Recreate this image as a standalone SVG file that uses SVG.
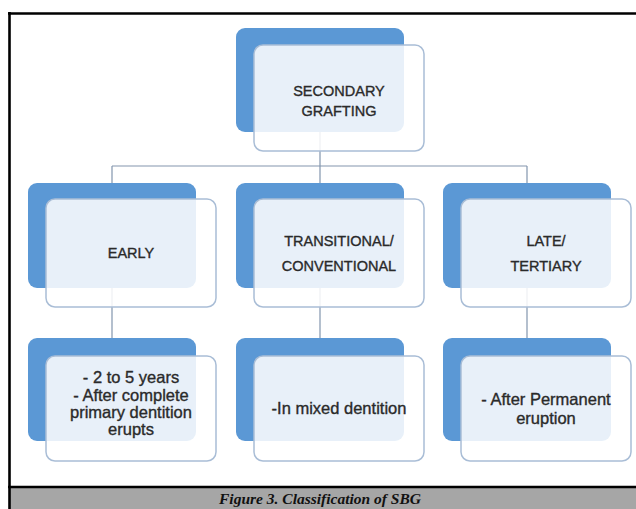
<svg xmlns="http://www.w3.org/2000/svg" width="636" height="509" viewBox="0 0 636 509">
<style>
.back{fill:#5B98D5;}
.front{fill:#FFFFFF;fill-opacity:0.86;stroke:#A9BDD6;stroke-width:1.5;}
.cap{font-family:"Liberation Sans",Arial,sans-serif;font-size:14.5px;fill:#2A2A2A;stroke:#2A2A2A;stroke-width:0.35;text-anchor:middle;}
.low{font-family:"Liberation Sans",Arial,sans-serif;font-size:16.5px;fill:#2A2A2A;stroke:#2A2A2A;stroke-width:0.35;text-anchor:middle;}
.conn{stroke:#8396AE;stroke-width:1.2;fill:none;}
.cat{font-family:"Liberation Serif","Times New Roman",serif;font-size:15.5px;font-weight:bold;font-style:italic;fill:#111;text-anchor:middle;}
</style>
<rect x="0" y="0" width="636" height="509" fill="#FFFFFF"/>
<g id="connectors">
<path class="conn" d="M320 132 V166 M112 166 H527 M112 166 V183 M320 166 V183 M527 166 V183"/>
<path class="conn" d="M112 288 V338 M320 288 V338 M527 288 V338"/>
</g>
<g id="n-secondary">
<rect class="back" x="236" y="28" width="168" height="104" rx="9"/>
<rect class="front" x="254" y="45" width="170" height="106" rx="9"/>
<text class="cap" x="339" y="96">SECONDARY</text>
<text class="cap" x="339" y="116">GRAFTING</text>
</g>
<g id="n-early">
<rect class="back" x="28" y="183" width="168" height="105" rx="9"/>
<rect class="front" x="46" y="199" width="170" height="108" rx="9"/>
<text class="cap" x="131" y="258">EARLY</text>
</g>
<g id="n-transitional">
<rect class="back" x="236" y="183" width="168" height="105" rx="9"/>
<rect class="front" x="254" y="199" width="170" height="108" rx="9"/>
<text class="cap" x="339" y="246">TRANSITIONAL/</text>
<text class="cap" x="339" y="271">CONVENTIONAL</text>
</g>
<g id="n-late">
<rect class="back" x="443" y="183" width="168" height="105" rx="9"/>
<rect class="front" x="461" y="199" width="170" height="108" rx="9"/>
<text class="cap" x="546" y="246">LATE/</text>
<text class="cap" x="546" y="271">TERTIARY</text>
</g>
<g id="n-early-desc">
<rect class="back" x="28" y="338" width="168" height="103" rx="9"/>
<rect class="front" x="46" y="356" width="170" height="105" rx="9"/>
<text class="low" x="131" y="383">- 2 to 5 years</text>
<text class="low" x="131" y="401">- After complete</text>
<text class="low" x="131" y="418">primary dentition</text>
<text class="low" x="131" y="435">erupts</text>
</g>
<g id="n-transitional-desc">
<rect class="back" x="236" y="338" width="168" height="103" rx="9"/>
<rect class="front" x="254" y="356" width="170" height="105" rx="9"/>
<text class="low" x="339" y="414">-In mixed dentition</text>
</g>
<g id="n-late-desc">
<rect class="back" x="443" y="338" width="168" height="103" rx="9"/>
<rect class="front" x="461" y="356" width="170" height="105" rx="9"/>
<text class="low" x="546" y="405">- After Permanent</text>
<text class="low" x="546" y="424">eruption</text>
</g>
<g id="frame">
<rect x="10" y="487" width="626" height="22" fill="#A6A6A6"/>
<path d="M8 13.5 H636 M9.5 12 V509 M8 487 H636" stroke="#000" stroke-width="2.6" fill="none"/>
<text class="cat" x="320" y="504">Figure 3. Classification of SBG</text>
</g>
</svg>
